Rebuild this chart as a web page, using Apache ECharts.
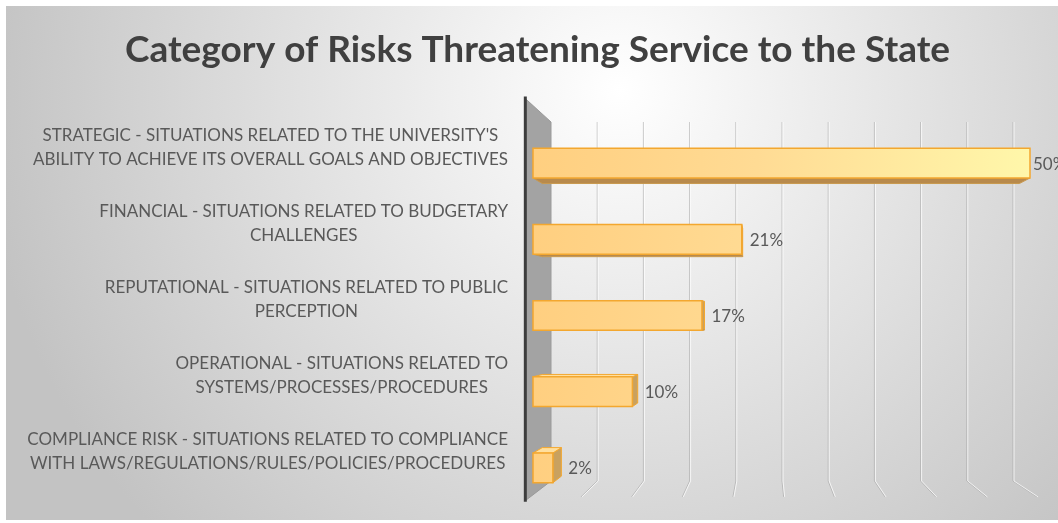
<!DOCTYPE html>
<html>
<head>
<meta charset="utf-8">
<script src="https://cdn.jsdelivr.net/npm/echarts@6/dist/echarts.min.js"></script>
<style>
  html, body { margin: 0; padding: 0; background: #ffffff; }
  #chart { width: 1058px; height: 523px; }
</style>
</head>
<body>
<div id="chart"></div>
<script>
// ---- data ----
const chartTitle = 'Category of Risks Threatening Service to the State';
const categories = [
  "STRATEGIC - SITUATIONS RELATED TO THE UNIVERSITY'S\nABILITY TO ACHIEVE ITS OVERALL GOALS AND OBJECTIVES",
  "FINANCIAL - SITUATIONS RELATED TO BUDGETARY\nCHALLENGES",
  "REPUTATIONAL - SITUATIONS RELATED TO PUBLIC\nPERCEPTION",
  "OPERATIONAL - SITUATIONS RELATED TO\nSYSTEMS/PROCESSES/PROCEDURES",
  "COMPLIANCE RISK - SITUATIONS RELATED TO COMPLIANCE\nWITH LAWS/REGULATIONS/RULES/POLICIES/PROCEDURES"
];
const shares = [50, 21, 17, 10, 2];          // percent of responses
const gridTicks = [0, 5, 10, 15, 20, 25, 30, 35, 40, 45, 50];
const axisMax = 50;

// ---- look of the 3D view ----
const VP = [765, 317];          // vanishing point of the perspective view
const FLOOR_SCALE = 1.097;      // back wall -> front edge of the floor
const WALL_SCALE = 1.12;        // back wall -> front edge of the side wall
const BAR_DEPTH = 0.04;         // how far each bar's back face recedes toward VP
const FONT = 'Lato, "Open Sans", sans-serif';
const CAT_FONT_SIZE = 17;
const TEXT_COLOR = '#595959';

const project = (p, k) => [VP[0] + (p[0] - VP[0]) * k, VP[1] + (p[1] - VP[1]) * k];
const toBack = p => [p[0] + (VP[0] - p[0]) * BAR_DEPTH, p[1] + (VP[1] - p[1]) * BAR_DEPTH];

const measureCtx = document.createElement('canvas').getContext('2d');
measureCtx.font = CAT_FONT_SIZE + 'px ' + FONT;
const blockWidth = s => Math.max(...s.split('\n').map(l => measureCtx.measureText(l).width));

const chart = echarts.init(document.getElementById('chart'), null, { renderer: 'canvas' });

const barFill = new echarts.graphic.LinearGradient(533, 0, 1030, 0, [
  { offset: 0, color: '#ffcf80' },
  { offset: 0.45, color: '#ffdb94' },
  { offset: 1, color: '#fff7aa' }
], true);

const option = {
  backgroundColor: '#ffffff',
  animation: false,
  graphic: [
    {
      type: 'rect', z: -10, silent: true,
      shape: { x: 6, y: 6, width: 1070, height: 514 },
      style: {
        fill: new echarts.graphic.RadialGradient(620, 90, 640, [
          { offset: 0, color: '#ffffff' },
          { offset: 1, color: '#c3c3c3' }
        ], true)
      }
    },
    {
      type: 'text', left: 125, top: 32, silent: true,
      style: {
        text: chartTitle,
        font: 'bold 37px ' + FONT,
        fill: '#404040'
      }
    }
  ],
  grid: [
    // front plane: bars and their labels
    { left: 533, right: 28, top: 125, bottom: 17 },
    // back wall: gridlines
    { left: 551, right: 45, top: 122, bottom: 42 }
  ],
  xAxis: [
    { gridIndex: 0, type: 'value', min: 0, max: axisMax, show: false },
    { gridIndex: 1, type: 'value', min: 0, max: axisMax, interval: 5, show: false }
  ],
  yAxis: [
    { gridIndex: 0, type: 'category', data: categories, inverse: true, show: false },
    { gridIndex: 1, type: 'value', min: 0, max: 1, show: false }
  ],
  series: [
    {
      // back wall gridlines with their bend onto the floor, plus the side wall
      type: 'custom',
      xAxisIndex: 1, yAxisIndex: 1,
      data: gridTicks,
      z: 1,
      renderItem(params, api) {
        const t = api.value(0);
        const top = api.coord([t, 1]);
        const bot = api.coord([t, 0]);
        if (t === 0) {
          const wt = project(top, WALL_SCALE);
          const wb = project(bot, WALL_SCALE);
          return {
            type: 'group',
            children: [
              { type: 'polygon', shape: { points: [top, bot, wb, wt] },
                style: { fill: '#a3a3a3', stroke: '#9a9a9a', lineWidth: 1 } },
              { type: 'line', shape: { x1: wt[0], y1: wt[1] - 2, x2: wb[0], y2: wb[1] + 1 },
                style: { stroke: '#3d3d3d', lineWidth: 3 } }
            ]
          };
        }
        const fb = project(bot, FLOOR_SCALE);
        return {
          type: 'group',
          children: [
            { type: 'polyline', shape: { points: [top, bot, fb] },
              style: { stroke: 'rgba(160,160,160,0.55)', lineWidth: 1, fill: null } },
            { type: 'polyline', shape: { points: [[top[0] + 1, top[1]], [bot[0] + 1, bot[1]], [fb[0] + 1, fb[1]]] },
              style: { stroke: 'rgba(255,255,255,0.75)', lineWidth: 1, fill: null } }
          ]
        };
      }
    },
    {
      // 3D bars
      type: 'custom',
      xAxisIndex: 0, yAxisIndex: 0,
      data: shares.map((v, i) => [v, i]),
      encode: { x: 0, y: 1 },
      z: 3,
      renderItem(params, api) {
        const v = api.value(0);
        const i = api.value(1);
        const start = api.coord([0, i]);
        const end = api.coord([v, i]);
        const h = api.size([0, 1])[1] * 0.39;
        const x0 = start[0], x1 = end[0], yc = start[1];
        const yT = yc - h / 2, yB = yc + h / 2;
        const edge = '#f3a72f';
        const kids = [];
        if (x1 < VP[0]) {
          kids.push({ type: 'polygon',
            shape: { points: [[x1, yT], [x1, yB], toBack([x1, yB]), toBack([x1, yT])] },
            style: { fill: '#c9a15f', stroke: edge, lineWidth: 1 } });
        }
        if (yc > VP[1]) {
          kids.push({ type: 'polygon',
            shape: { points: [[x0, yT], [x1, yT], toBack([x1, yT]), toBack([x0, yT])] },
            style: { fill: '#ffdf9e', stroke: edge, lineWidth: 1 } });
        } else {
          kids.push({ type: 'polygon',
            shape: { points: [[x0, yB], [x1, yB], toBack([x1, yB]), toBack([x0, yB])] },
            style: { fill: '#b88a4c', stroke: '#c99a50', lineWidth: 1 } });
        }
        kids.push({ type: 'rect',
          shape: { x: x0, y: yT, width: x1 - x0, height: h },
          style: { fill: barFill, stroke: edge, lineWidth: 1.5 } });
        const lx = Math.max(x1 + 3, toBack([x1, yc])[0] + 7);
        kids.push({ type: 'text',
          style: { x: lx, y: yc + 1, text: v + '%', font: '17px ' + FONT,
                   fill: TEXT_COLOR, align: 'left', verticalAlign: 'middle' } });
        return { type: 'group', children: kids };
      }
    },
    {
      // category labels: each block centred on itself, right edge beside the wall
      type: 'custom',
      xAxisIndex: 0, yAxisIndex: 0,
      data: categories.map((c, i) => [0, i]),
      encode: { x: 0, y: 1 },
      z: 2,
      renderItem(params, api) {
        const i = api.value(1);
        const p = api.coord([0, i]);
        const text = categories[i];
        const w = blockWidth(text);
        const right = p[0] - 25;
        return {
          type: 'text',
          style: {
            x: right - w / 2, y: p[1] - 16, text,
            font: CAT_FONT_SIZE + 'px ' + FONT, lineHeight: 24,
            fill: TEXT_COLOR, align: 'center', verticalAlign: 'middle'
          }
        };
      }
    }
  ]
};

chart.setOption(option);
</script>
</body>
</html>
